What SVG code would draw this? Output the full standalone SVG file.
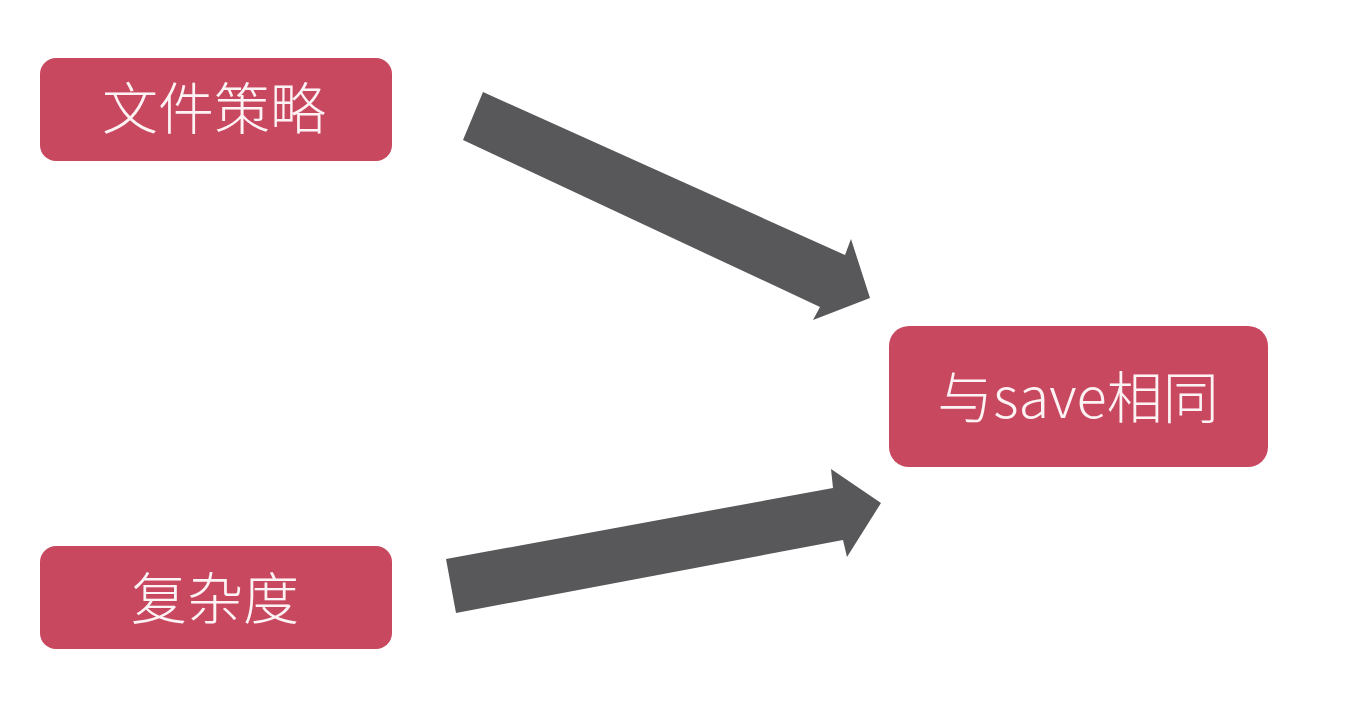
<svg xmlns="http://www.w3.org/2000/svg" width="1358" height="718" viewBox="0 0 1358 718">
<style>
.box{fill:#c8485f;}
.lbl{fill:#fdf2f4;font-family:"Noto Sans CJK SC","Noto Sans",sans-serif;font-size:56px;font-weight:300;text-anchor:middle;}
.arrow{fill:#58585b;}
</style>
<rect width="1358" height="718" fill="#ffffff"/>
<g id="connectors">
<polygon class="arrow" points="483,92 845,255 851,239 870,298 813,320 820,307 463,140"/>
<polygon class="arrow" points="446,559 833,488 831,469 881,503 847,557 843,540 456,613"/>
</g>
<g id="node-file-strategy">
<rect class="box" x="40" y="58" width="352" height="103" rx="16"/>
<text class="lbl" x="214" y="129">文件策略</text>
</g>
<g id="node-complexity">
<rect class="box" x="40" y="546" width="352" height="103" rx="16"/>
<text class="lbl" x="215" y="619">复杂度</text>
</g>
<g id="node-same-as-save">
<rect class="box" x="889" y="326" width="379" height="141" rx="20"/>
<text class="lbl" x="1078" y="418">与save相同</text>
</g>
</svg>
